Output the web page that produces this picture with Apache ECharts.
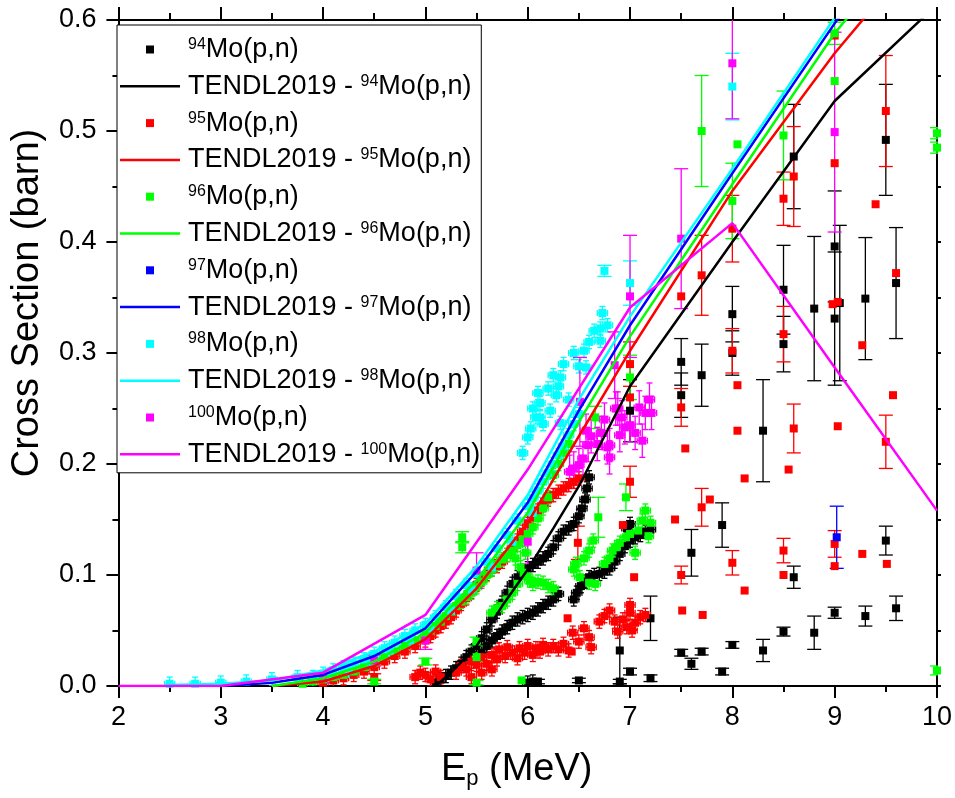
<!DOCTYPE html>
<html><head><meta charset="utf-8">
<script src="https://cdn.jsdelivr.net/npm/echarts@6/dist/echarts.min.js"></script>
<style>html,body{margin:0;padding:0;background:#fff}#c{width:955px;height:798px}</style>
</head><body><div id="c"></div>
<script>
// ---------- axis ticks ----------
const xTicks = [2, 3, 4, 5, 6, 7, 8, 9, 10];
const yTicks = [0.0, 0.1, 0.2, 0.3, 0.4, 0.5, 0.6];

// ---------- typical uncertainty of the dense (scan) measurements ----------
const SCAN_DE = 0.05;   // MeV
const SCAN_DS = 0.006;  // barn

// ---------- 94Mo(p,n) ----------
const mo94Scan = [
 [5.10,0.003],[5.15,0.006],[5.20,0.009],[5.25,0.012],[5.30,0.016],[5.35,0.020],[5.40,0.026],[5.45,0.031],
 [5.50,0.036],[5.55,0.043],[5.60,0.051],[5.65,0.060],[5.70,0.067],[5.75,0.075],[5.80,0.084],[5.85,0.092],
 [5.90,0.098],[5.95,0.103],[6.00,0.106],[6.05,0.109],[6.10,0.112],[6.15,0.115],[6.20,0.119],[6.25,0.125],
 [6.30,0.133],[6.35,0.139],[6.40,0.142],[6.45,0.146],[6.50,0.153],[6.53,0.160],[6.56,0.168],[6.58,0.178],[6.60,0.188],
 [5.55,0.030],[5.60,0.036],[5.65,0.041],[5.70,0.045],[5.75,0.049],[5.80,0.053],[5.85,0.057],[5.90,0.060],
 [5.95,0.062],[6.00,0.064],[6.05,0.066],[6.10,0.069],[6.15,0.072],[6.20,0.075],[6.25,0.078],[6.30,0.083],
 [6.45,0.078],[6.48,0.084],[6.52,0.090],[6.56,0.094],[6.60,0.098],[6.65,0.100],[6.70,0.101],[6.75,0.103],
 [6.80,0.106],[6.85,0.112],[6.90,0.119],[6.95,0.126],[7.00,0.131],[7.05,0.134],[7.10,0.136],[7.15,0.139],
 [7.20,0.141],[7.00,0.146],[6.97,0.142],[6.00,0.003],[6.05,0.004]
];
const mo94Pts = [
 [6.1,0.004,0.002],[6.5,0.005,0.002],[6.9,0.004,0.002],[6.9,0.032,0.03],[7.0,0.013,0.003],[7.2,0.007,0.003],
 [7.2,0.061,0.02],[7.5,0.030,0.003],[7.6,0.020,0.005],[7.7,0.031,0.003],[7.9,0.013,0.003],[8.0,0.037,0.003],
 [8.3,0.032,0.01],[8.5,0.049,0.004],[8.8,0.048,0.015],[9.0,0.066,0.005],[9.3,0.063,0.009],[9.6,0.070,0.011],
 [7.6,0.120,0.021],[7.9,0.145,0.02],[8.6,0.098,0.01],[9.5,0.131,0.013],[7.0,0.248,0.028],
 [7.5,0.292,0.021],[7.5,0.262,0.02],[7.7,0.280,0.028],[8.0,0.335,0.025],[8.0,0.300,0.02],[8.3,0.230,0.046],
 [8.5,0.357,0.04],[8.5,0.308,0.025],[8.6,0.477,0.047],[8.8,0.340,0.065],[9.0,0.396,0.05],[9.0,0.331,0.06],
 [9.05,0.345,0.07],[9.3,0.349,0.055],[9.5,0.492,0.05],[9.6,0.363,0.05]
];
const tendl94 = [[5.1,0],[5.25,0.012],[5.5,0.036],[5.75,0.072],[6.0,0.105],[6.25,0.142],[6.5,0.18],[7.0,0.27],[8.0,0.40],[9.0,0.527],[10.0,0.614]];

// ---------- 95Mo(p,n) ----------
const mo95Scan = [
 [4.0,0.003],[4.1,0.005],[4.2,0.007],[4.3,0.010],[4.4,0.013],[4.5,0.017],[4.6,0.022],[4.7,0.027],[4.8,0.031],
 [4.9,0.036],[5.0,0.041],[5.05,0.045],[5.1,0.050],[5.15,0.054],[5.2,0.058],[5.25,0.062],[5.3,0.068],[5.35,0.074],
 [5.4,0.079],[5.45,0.085],[5.5,0.091],[5.55,0.096],[5.6,0.101],[5.65,0.105],[5.7,0.108],[5.75,0.112],[5.8,0.118],
 [5.85,0.124],[5.9,0.131],[5.95,0.139],[6.0,0.146],[6.05,0.152],[6.1,0.158],[6.15,0.163],[6.2,0.168],[6.25,0.172],
 [6.3,0.175],[6.35,0.178],[6.4,0.181],[6.45,0.184],[6.5,0.187],
 [4.9,0.008],[4.95,0.012],[5.0,0.010],[5.05,0.006],[5.1,0.013],[5.15,0.008],[5.3,0.012],[5.35,0.018],[5.4,0.015],
 [5.45,0.022],[5.5,0.019],[5.55,0.026],[5.6,0.020],[5.65,0.028],[5.7,0.024],[5.72,0.033],[5.78,0.027],[5.8,0.035],
 [5.85,0.030],[5.9,0.025],[5.92,0.034],[5.97,0.030],[6.0,0.036],[6.05,0.028],[6.08,0.034],[6.12,0.031],[6.15,0.037],
 [6.2,0.033],[6.25,0.036],[6.3,0.033],[6.35,0.038],[5.45,0.008],[5.55,0.012],[5.65,0.015],
 [6.4,0.032],[6.44,0.048],[6.5,0.040],[6.55,0.052],[6.6,0.044],[6.62,0.035],[6.7,0.058],[6.75,0.063],[6.8,0.068],
 [6.85,0.058],[6.88,0.049],[6.93,0.060],[6.97,0.053],[7.0,0.066],[7.02,0.050],[7.05,0.057],[7.1,0.062],[7.15,0.064],[7.0,0.073]
];
const mo95Pts = [
 [4.5,0.008,0.003],[6.39,0.061,0],[6.43,0.031,0],[6.49,0.129,0.015],[6.93,0.145,0],[7.0,0.184,0.014],[7.04,0.098,0],
 [7.0,0.29,0.02],[7.0,0.26,0],[7.5,0.251,0.017],[7.54,0.214,0],[7.5,0.100,0.008],[7.51,0.068,0],[7.44,0.150,0],
 [7.7,0.161,0.017],[7.78,0.168,0],[7.71,0.064,0],[8.0,0.302,0.02],[8.05,0.271,0],[8.05,0.230,0],[8.12,0.187,0],
 [8.12,0.086,0],[8.0,0.111,0.011],[8.5,0.317,0.025],[8.6,0.232,0.022],[8.55,0.195,0],[8.5,0.122,0.011],[8.5,0.100,0],
 [9.0,0.128,0.012],[9.0,0.108,0],[9.03,0.346,0],[8.98,0.344,0],[9.27,0.307,0],[9.57,0.262,0],[9.03,0.234,0],
 [9.5,0.220,0.024],[9.27,0.119,0],[9.51,0.110,0],[9.5,0.518,0.05],[9.4,0.434,0],[9.0,0.471,0],[9.6,0.372,0],
 [8.6,0.459,0.045],[8.5,0.439,0.024],[7.7,0.370,0.036],[7.5,0.351,0],[8.0,0.412,0.03],[9.0,0.586,0]
];
const tendl95 = [[3.5,0],[4.0,0.004],[4.5,0.018],[5.0,0.042],[5.5,0.088],[6.0,0.147],[6.5,0.225],[7.0,0.302],[8.0,0.446],[9.0,0.570],[10.0,0.68]];

// ---------- 96Mo(p,n) ----------
const mo96Scan = [
 [3.8,0.002],[3.9,0.004],[4.0,0.006],[4.1,0.008],[4.2,0.010],[4.3,0.013],[4.4,0.017],[4.5,0.021],[4.6,0.026],
 [4.7,0.031],[4.8,0.036],[4.9,0.041],[5.0,0.046],[5.05,0.050],[5.1,0.054],[5.15,0.058],[5.2,0.063],[5.25,0.067],
 [5.3,0.072],[5.35,0.076],[5.4,0.080],[5.45,0.084],[5.5,0.089],[5.55,0.094],[5.6,0.100],[5.65,0.105],[5.7,0.110],
 [5.75,0.114],[5.8,0.118],[5.85,0.122],[5.9,0.127],[5.95,0.132],[6.0,0.137],[6.05,0.143],[6.1,0.151],[6.15,0.160],
 [6.2,0.170],[6.25,0.190],[6.3,0.200],[6.35,0.210],[6.4,0.218],
 [5.65,0.066],[5.7,0.070],[5.75,0.072],[5.8,0.078],[5.85,0.084],[5.9,0.092],[5.93,0.107],[5.96,0.102],[6.0,0.098],
 [6.02,0.095],[6.05,0.092],[6.1,0.094],[6.15,0.093],[6.2,0.090],[6.25,0.088],[5.88,0.115],[5.98,0.12],
 [6.45,0.105],[6.47,0.110],[6.51,0.098],[6.55,0.115],[6.6,0.122],[6.6,0.093],[6.64,0.131],[6.75,0.110],[6.8,0.115],
 [6.83,0.122],[6.87,0.125],[6.9,0.129],[6.96,0.134],[7.0,0.137],[7.05,0.120],[7.08,0.140],[7.12,0.149],[7.15,0.158],
 [7.2,0.147],[7.18,0.135],[6.66,0.092]
];
const mo96Pts = [
 [4.5,0.004,0.002],[5.0,0.022,0.003],[5.36,0.134,0.005],[5.36,0.125,0.005],[5.5,0.040,0.004],[5.5,0.026,0.004],
 [5.5,0.003,0.002],[5.94,0.005,0],[6.66,0.242,0.01],[7.0,0.278,0.02],[6.69,0.152,0.018],[6.96,0.170,0.012],
 [7.7,0.500,0.05],[8.0,0.437,0.034],[8.05,0.488,0],[8.5,0.496,0.04],[9.0,0.545,0],[9.0,0.588,0.01],
 [10.0,0.498,0.005],[10.0,0.485,0.005],[10.0,0.014,0.004]
];
const tendl96 = [[3.5,0],[4.0,0.007],[4.5,0.022],[5.0,0.048],[5.5,0.095],[6.0,0.156],[6.5,0.238],[7.0,0.315],[8.0,0.452],[9.0,0.588],[10.0,0.70]];

// ---------- 97Mo(p,n) ----------
const mo97Pts = [[9.02,0.134,0.028]];
const tendl97 = [[3.0,0],[3.5,0.003],[4.0,0.010],[4.5,0.027],[5.0,0.052],[5.5,0.103],[6.0,0.165],[6.5,0.248],[7.0,0.325],[8.0,0.462],[9.0,0.597],[10.0,0.72]];

// ---------- 98Mo(p,n) ----------
const mo98Scan = [
 [2.5,0.002],[2.75,0.002],[3.0,0.003],[3.25,0.004],[3.5,0.006],[3.75,0.008],
 [3.9,0.008],[4.0,0.011],[4.1,0.014],[4.2,0.017],[4.3,0.020],[4.4,0.024],[4.5,0.029],[4.6,0.034],[4.7,0.039],
 [4.8,0.045],[4.9,0.050],[5.0,0.055],[5.1,0.062],[5.2,0.071],[5.3,0.081],[5.4,0.091],[5.5,0.101],[5.6,0.112],
 [5.7,0.124],[5.8,0.136],[5.9,0.149],[6.0,0.162],[6.05,0.169],[6.1,0.176],[6.15,0.184],[6.2,0.192],[6.25,0.200],
 [6.3,0.208],[6.35,0.216],[6.4,0.226],[6.45,0.236],
 [4.05,0.009],[4.25,0.014],[4.45,0.022],[4.65,0.032],[4.85,0.041],[5.05,0.052],[5.25,0.068],[5.45,0.087],
 [5.65,0.107],[5.85,0.130],[6.05,0.156],
 [5.95,0.21],[6.0,0.224],[6.03,0.232],[6.05,0.25],[6.08,0.242],[6.1,0.264],[6.12,0.255],[6.15,0.236],[6.2,0.268],
 [6.22,0.248],[6.25,0.28],[6.28,0.262],[6.3,0.27],[6.32,0.278],[6.35,0.29],[6.4,0.258],[6.45,0.3],[6.5,0.288],
 [6.55,0.302],[6.57,0.287],[6.6,0.31],[6.65,0.32],[6.71,0.322],[6.73,0.336],[6.71,0.311],[6.78,0.325],
 [6.12,0.242],[6.32,0.237],[6.5,0.245]
];
const mo98Pts = [[7.0,0.363,0.02],[6.75,0.374,0.005],[8.0,0.540,0.03]];
const tendl98 = [[2.5,0.001],[3.0,0.002],[3.5,0.005],[4.0,0.014],[4.5,0.031],[5.0,0.056],[5.5,0.108],[6.0,0.172],[6.5,0.258],[7.0,0.333],[8.0,0.466],[9.0,0.602],[10.0,0.73]];

// ---------- 100Mo(p,n) ----------
const mo100Scan = [
 [6.41,0.193],[6.45,0.196],[6.5,0.199],[6.54,0.205],[6.57,0.23],[6.59,0.217],[6.62,0.225],[6.68,0.218],[6.72,0.228],
 [6.78,0.215],[6.8,0.206],[6.8,0.217],[6.86,0.25],[6.9,0.226],[6.95,0.233],[7.0,0.235],[7.05,0.228],[7.09,0.251],
 [7.12,0.221],[7.15,0.246],[7.19,0.258],[7.21,0.246],[6.88,0.25],[6.92,0.242],[6.75,0.24]
];
const mo100ScanDE = 0.05, mo100ScanDS = 0.015;
const mo100Pts = [
 [4.0,0.007,0.004],[4.5,0.023,0.005],[5.0,0.041,0.008],[5.5,0.104,0.016],[6.0,0.130,0.02],[6.51,0.256,0.04],
 [6.85,0.289,0.03],[7.0,0.351,0.055],[7.5,0.403,0.063],[8.0,0.561,0.05],[9.0,0.499,0.09]
];
const tendl100 = [[2.0,0],[3.0,0.0],[4.0,0.012],[5.0,0.064],[6.0,0.195],[7.0,0.341],[8.0,0.417],[9.0,0.287],[10.0,0.158]];

// ---------- build ----------
const FONT = '"Liberation Sans", Arial, sans-serif';
const iso = [
 {m:'94',  color:'#000000', scan:mo94Scan,  pts:mo94Pts,  tendl:tendl94,  de:SCAN_DE, ds:SCAN_DS},
 {m:'95',  color:'#ff0000', scan:mo95Scan,  pts:mo95Pts,  tendl:tendl95,  de:SCAN_DE, ds:SCAN_DS},
 {m:'96',  color:'#00ff00', scan:mo96Scan,  pts:mo96Pts,  tendl:tendl96,  de:SCAN_DE, ds:SCAN_DS},
 {m:'97',  color:'#0000ff', scan:[],        pts:mo97Pts,  tendl:tendl97,  de:SCAN_DE, ds:SCAN_DS},
 {m:'98',  color:'#00ffff', scan:mo98Scan,  pts:mo98Pts,  tendl:tendl98,  de:SCAN_DE, ds:SCAN_DS},
 {m:'100', color:'#ff00ff', scan:mo100Scan, pts:mo100Pts, tendl:tendl100, de:mo100ScanDE, ds:mo100ScanDS}
];

function errRender(color, cap) {
  return function (params, api) {
    const x = api.value(0), y = api.value(1), dy = api.value(2), dx = api.value(3);
    const ch = [];
    const st = {stroke: color, lineWidth: 1.3};
    if (dy > 0) {
      const a = api.coord([x, y + dy]), b = api.coord([x, y - dy]);
      ch.push({type:'line', shape:{x1:a[0], y1:a[1], x2:b[0], y2:b[1]}, style:st});
      ch.push({type:'line', shape:{x1:a[0]-cap/2, y1:a[1], x2:a[0]+cap/2, y2:a[1]}, style:st});
      ch.push({type:'line', shape:{x1:b[0]-cap/2, y1:b[1], x2:b[0]+cap/2, y2:b[1]}, style:st});
    }
    if (dx > 0) {
      const a = api.coord([x - dx, y]), b = api.coord([x + dx, y]);
      ch.push({type:'line', shape:{x1:a[0], y1:a[1], x2:b[0], y2:b[1]}, style:st});
      ch.push({type:'line', shape:{x1:a[0], y1:a[1]-cap/2, x2:a[0], y2:a[1]+cap/2}, style:st});
      ch.push({type:'line', shape:{x1:b[0], y1:b[1]-cap/2, x2:b[0], y2:b[1]+cap/2}, style:st});
    }
    return {type:'group', children: ch};
  };
}

const series = [];
const legendData = [];
const SQ = 'path://M0,0M60,8M26,0h8v8h-8z';
const LN = 'path://M0,0M60,8M0,2.75h60v2.5h-60z';
iso.forEach(function (d) {
  const dataName = d.m + 'Mo(p,n)';
  const lineName = 'TENDL2019 - ' + d.m + 'Mo(p,n)';
  if (d.scan.length) {
    series.push({type:'custom', name:'err-scan-' + d.m, clip:true, silent:true,
      renderItem: errRender(d.color, 6), encode:{x:0, y:1},
      data: d.scan.map(p => [p[0], p[1], d.ds, d.de])});
  }
  series.push({type:'custom', name:'err-' + d.m, clip:true, silent:true,
    renderItem: errRender(d.color, 14), encode:{x:0, y:1},
    data: d.pts.map(p => [p[0], p[1], p[2] || 0, 0])});
  series.push({type:'scatter', name:dataName, symbol:'rect', symbolSize:8,
    itemStyle:{color:d.color, opacity:1}, clip:true, silent:true,
    data: d.scan.map(p => [p[0], p[1]]).concat(d.pts.map(p => [p[0], p[1]]))});
  series.push({type:'line', name:lineName, symbol:'none', showSymbol:false, clip:true, silent:true,
    lineStyle:{color:d.color, width:2.5}, itemStyle:{color:d.color}, data:d.tendl});
  legendData.push({name:dataName, icon:SQ});
  legendData.push({name:lineName, icon:LN, itemStyle:{color:d.color}});
});

const axisCommon = {
  axisLine:{show:true, onZero:false, lineStyle:{color:'#000', width:2}},
  splitLine:{show:false}
};

const option = {
  animation:false,
  backgroundColor:'#fff',
  grid:{left:111, right:18, top:20, bottom:112, containLabel:false},
  xAxis:[
    Object.assign({type:'value', min:xTicks[0], max:xTicks[xTicks.length-1], interval:1, position:'bottom',
      axisTick:{inside:false, length:12, lineStyle:{color:'#000', width:2}},
      minorTick:{show:true, splitNumber:2, length:6, lineStyle:{color:'#000', width:2}},
      axisLabel:{fontSize:27, color:'#000', fontFamily:FONT, margin:18},
      name:'{e|E}{p|p}{e| (MeV)}', nameLocation:'middle', nameGap:64,
      nameTextStyle:{padding:[0,22,0,0], rich:{
        e:{fontSize:38, fontFamily:FONT, color:'#000', lineHeight:40},
        p:{fontSize:22, fontFamily:FONT, color:'#000', lineHeight:12, verticalAlign:'bottom'}}}
    }, axisCommon),
    Object.assign({type:'value', min:xTicks[0], max:xTicks[xTicks.length-1], interval:1, position:'top',
      axisTick:{inside:false, length:13, lineStyle:{color:'#000', width:2}},
      minorTick:{show:true, splitNumber:2, length:7, lineStyle:{color:'#000', width:2}},
      axisLabel:{show:false}}, axisCommon)
  ],
  yAxis:[
    Object.assign({type:'value', min:yTicks[0], max:yTicks[yTicks.length-1], interval:0.1, position:'left',
      axisTick:{inside:false, length:12, lineStyle:{color:'#000', width:2}},
      minorTick:{show:true, splitNumber:2, length:6, lineStyle:{color:'#000', width:2}},
      axisLabel:{fontSize:27, color:'#000', fontFamily:FONT, margin:22, formatter: v => v.toFixed(1)},
      name:'Cross Section (barn)', nameLocation:'middle', nameRotate:90, nameGap:66,
      nameTextStyle:{fontSize:38, fontFamily:FONT, color:'#000', lineHeight:40, padding:[0,0,0,100]}
    }, axisCommon),
    Object.assign({type:'value', min:yTicks[0], max:yTicks[yTicks.length-1], interval:0.1, position:'right',
      axisTick:{inside:false, length:4, lineStyle:{color:'#000', width:2}},
      minorTick:{show:true, splitNumber:2, length:4, lineStyle:{color:'#000', width:2}},
      axisLabel:{show:false}}, axisCommon)
  ],
  legend:{
    orient:'vertical', left:117, top:25, itemWidth:60, itemHeight:8, itemGap:9.8,
    padding:[11,1,5,3], borderColor:'#000', borderWidth:1, backgroundColor:'#fff',
    selectedMode:false, data:legendData,
    formatter: function (name) {
      const m = name.match(/^(TENDL2019 - )?(\d+)(Mo\(p,n\))$/);
      return (m[1] ? '{t|' + m[1] + '}' : '') + '{s|' + m[2] + '}{t|' + m[3] + '}';
    },
    textStyle:{fontFamily:FONT, fontSize:27, color:'#000', lineHeight:26, padding:[0,0,0,3],
      rich:{t:{fontFamily:FONT, fontSize:27, color:'#000', lineHeight:26},
            s:{fontFamily:FONT, fontSize:16, color:'#000', lineHeight:8, verticalAlign:'top'}}}
  },
  series: series
};

const chart = echarts.init(document.getElementById('c'), null, {renderer:'canvas'});
chart.setOption(option);
</script></body></html>
